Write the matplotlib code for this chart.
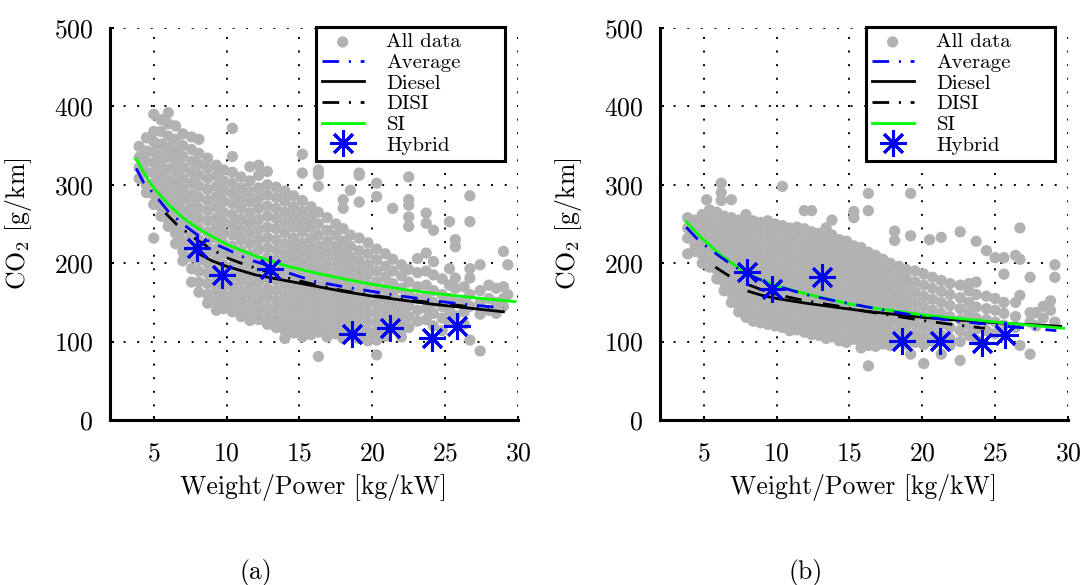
import matplotlib
matplotlib.use("Agg")
import matplotlib.pyplot as plt
import numpy as np

plt.rcParams['font.family'] = 'serif'
plt.rcParams['font.serif'] = ['cmr10']
plt.rcParams['mathtext.fontset'] = 'cm'
plt.rcParams['axes.formatter.use_mathtext'] = True
plt.rcParams['lines.scale_dashes'] = False

# ---- panel (a): all data, read column by column (x, list of y) ----
cloud_a = [
    (4.0, [349, 335, 322, 308]),
    (4.5, [360, 343, 330, 316, 300, 290]),
    (5.0, [390, 368, 355, 342, 328, 315, 302, 288, 275, 232]),
    (5.5, [383, 368, 352, 338, 325, 312, 298, 285, 272, 260]),
    (6.0, [392, 378, 362, 348, 335, 320, 306, 293, 280, 268, 255, 247]),
    (6.5, [375, 358, 344, 330, 317, 303, 290, 277, 264, 250, 238, 225]),
    (7.0, [365, 350, 336, 322, 308, 295, 282, 268, 255, 242, 228, 215, 203]),
    (7.6, [361, 345, 330, 316, 302, 288, 275, 262, 248, 235, 222, 208, 193, 176]),
    (8.1, [358, 340, 326, 312, 298, 284, 270, 257, 244, 230, 217, 204, 190, 176, 163]),
    (8.7, [334, 321, 308, 294, 280, 267, 254, 240, 227, 214, 200, 187, 174, 160, 149]),
    (9.3, [325, 312, 298, 285, 272, 258, 245, 232, 218, 205, 192, 178, 165, 152, 140]),
    (9.8, [319, 305, 292, 279, 265, 252, 238, 225, 212, 198, 185, 172, 160, 151, 142]),
    (10.4, [372, 336, 316, 302, 289, 276, 262, 249, 236, 222, 209, 196, 183, 170, 158, 146, 138]),
    (11.0, [310, 296, 283, 270, 256, 243, 230, 216, 203, 190, 177, 164, 152, 140, 132]),
    (11.6, [323, 305, 291, 278, 264, 251, 238, 225, 211, 198, 185, 172, 160, 147, 135, 127]),
    (12.2, [325, 312, 296, 283, 270, 256, 243, 230, 217, 203, 190, 177, 164, 152, 140, 128]),
    (12.8, [317, 300, 287, 273, 260, 246, 233, 220, 207, 194, 181, 168, 156, 143, 131, 122]),
    (13.4, [297, 284, 270, 257, 244, 230, 217, 204, 191, 178, 165, 152, 140, 128, 118]),
    (14.0, [292, 279, 265, 252, 239, 225, 212, 199, 186, 173, 160, 148, 136, 124, 114, 104]),
    (14.6, [286, 272, 259, 246, 232, 219, 206, 193, 180, 167, 155, 143, 131, 120, 111]),
    (15.2, [339, 315, 280, 266, 253, 240, 226, 213, 200, 187, 174, 162, 150, 138, 126, 115, 106]),
    (15.8, [272, 259, 246, 232, 219, 206, 193, 180, 168, 155, 143, 131, 120, 109]),
    (16.3, [319, 313, 298, 265, 250, 236, 222, 209, 196, 184, 171, 159, 147, 135, 123, 112, 81]),
    (16.9, [258, 242, 228, 215, 202, 189, 176, 164, 152, 140, 128, 116, 106]),
    (17.5, [250, 236, 222, 209, 196, 183, 171, 158, 146, 134, 122, 110]),
    (18.0, [281, 270, 244, 228, 214, 201, 188, 175, 162, 150, 138, 126, 114, 104]),
    (18.5, [293, 236, 222, 208, 195, 182, 169, 156, 144, 132, 120, 108]),
    (19.1, [315, 312, 278, 232, 216, 203, 190, 177, 164, 152, 140, 128, 116, 104]),
    (19.7, [226, 212, 198, 185, 172, 160, 148, 136, 124, 112, 101]),
    (20.3, [302, 285, 218, 204, 190, 176, 163, 150, 138, 126, 114, 102, 83]),
    (20.9, [212, 196, 182, 168, 155, 142, 130, 118, 107]),
    (21.4, [270, 205, 190, 174, 160, 146, 133, 119]),
    (22.0, [198, 184, 168, 153, 140, 128, 116, 106]),
    (22.5, [310, 281, 274, 259, 247, 192, 176, 160, 146, 132, 118]),
    (23.1, [206, 188, 170, 155, 140, 126]),
    (23.7, [264, 251, 213, 190, 172, 157, 142, 128]),
    (24.2, [242, 202, 185, 165, 150, 136, 120]),
    (24.8, [180, 160, 145, 130, 114]),
    (25.3, [253, 193, 172, 155, 140, 125]),
    (25.7, [230, 221, 181, 168, 150, 133]),
    (26.3, [170, 152, 138, 122]),
    (26.7, [286, 253, 193, 181, 160, 145, 102]),
    (27.4, [198, 165, 150, 135, 88]),
    (28.0, [172, 155, 140]),
    (28.5, [168, 150, 136]),
    (29.0, [215, 170, 155, 145]),
    (29.3, [198, 160]),
]

# ---- panel (b) ----
cloud_b = [
    (3.9, [258, 245, 232, 212]),
    (4.4, [255, 242, 228, 215, 222]),
    (4.9, [262, 250, 237, 224, 211, 200]),
    (5.2, [281]),
    (5.4, [268, 255, 243, 230, 218, 206, 195]),
    (5.9, [265, 252, 240, 228, 216, 204, 192, 180]),
    (6.2, [302, 290, 280]),
    (6.4, [260, 248, 236, 224, 212, 200, 188, 176, 165]),
    (6.9, [281, 258, 246, 234, 222, 210, 198, 186, 174, 162, 150]),
    (7.4, [255, 243, 231, 219, 207, 195, 183, 171, 159, 147, 138]),
    (7.9, [262, 250, 238, 226, 214, 202, 190, 178, 166, 154, 142, 131]),
    (8.4, [254, 242, 230, 218, 206, 194, 182, 170, 158, 146, 134, 126]),
    (8.9, [252, 240, 228, 216, 204, 192, 180, 168, 156, 144, 132, 124]),
    (9.4, [254, 241, 229, 217, 205, 193, 181, 169, 157, 145, 133, 122]),
    (9.9, [250, 238, 226, 214, 202, 190, 178, 166, 154, 142, 130, 120]),
    (10.4, [298, 248, 236, 224, 212, 200, 188, 176, 164, 152, 140, 128, 118]),
    (10.9, [245, 233, 221, 209, 197, 185, 173, 161, 149, 137, 125, 114]),
    (11.4, [246, 234, 222, 210, 198, 186, 174, 162, 150, 138, 126, 115]),
    (11.9, [267, 244, 232, 220, 208, 196, 184, 172, 160, 148, 136, 124, 112]),
    (12.4, [267, 240, 228, 216, 204, 192, 180, 168, 156, 144, 132, 120, 109]),
    (12.9, [238, 226, 214, 202, 190, 178, 166, 154, 142, 130, 118, 108]),
    (13.4, [245, 232, 220, 208, 196, 184, 172, 160, 148, 136, 124, 112, 104]),
    (13.8, [255, 236, 224, 212, 200, 188, 176, 164, 152, 140, 128, 116, 106]),
    (14.3, [230, 218, 206, 194, 182, 170, 158, 146, 134, 122, 110, 101]),
    (14.8, [228, 216, 204, 192, 180, 168, 156, 144, 132, 120, 108, 99]),
    (15.3, [266, 258, 222, 210, 198, 186, 174, 162, 150, 138, 126, 114, 103]),
    (15.8, [220, 208, 196, 184, 172, 160, 148, 136, 124, 112, 100, 92]),
    (16.3, [289, 267, 214, 202, 190, 178, 166, 154, 142, 130, 118, 106, 95, 69]),
    (16.8, [210, 198, 186, 174, 162, 150, 138, 126, 114, 102, 94]),
    (17.3, [205, 192, 180, 168, 156, 144, 132, 120, 108, 97]),
    (17.8, [200, 188, 176, 164, 152, 140, 128, 116, 104, 95]),
    (18.1, [241, 229]),
    (18.4, [196, 184, 172, 160, 148, 136, 124, 112, 100]),
    (18.9, [192, 180, 168, 156, 144, 132, 120, 108, 97]),
    (19.2, [289, 235, 84]),
    (19.5, [190, 176, 163, 150, 137, 124, 111, 99]),
    (20.1, [186, 172, 158, 145, 132, 119, 106, 96, 72]),
    (20.5, [230]),
    (20.7, [182, 168, 154, 140, 126, 113, 100]),
    (21.3, [233, 178, 164, 150, 136, 122, 108, 84]),
    (21.9, [174, 160, 146, 132, 118, 104, 95]),
    (22.6, [240, 172, 156, 142, 128, 114, 100, 76]),
    (23.2, [174, 165, 150, 136, 122, 108]),
    (23.7, [228, 176, 160, 144, 130, 116, 102]),
    (24.4, [216, 158, 142, 128, 114]),
    (25.0, [207, 155, 140, 125, 110]),
    (25.6, [207, 186, 150, 136, 121]),
    (26.4, [210, 150, 132, 118]),
    (26.7, [245, 205, 159, 95]),
    (27.4, [182, 137, 125, 84]),
    (27.8, [137, 120]),
    (28.3, [145, 130]),
    (28.8, [152, 140]),
    (29.1, [198, 182, 125]),
]

# ---- fitted curves (a) ----
avg_a_x = [3.8, 4.3, 5, 6, 7, 8, 9, 10, 11.5, 13, 14.5, 16, 18, 20, 22, 24, 26, 29]
avg_a_y = [321, 303, 289, 266, 250, 236, 226, 218, 205, 196, 186, 177, 170, 164, 158, 153, 148, 143]
diesel_a_x = [8, 9, 10, 12, 14, 16, 18, 20, 22, 24, 26, 28, 29]
diesel_a_y = [213, 203, 196, 185, 178, 171, 164, 158, 153, 148, 144, 140, 138]
disi_a_x = [5.8, 6.6, 7.8, 8.7, 10, 11, 12.6, 14, 16, 18, 20, 22, 24, 26, 28]
disi_a_y = [264, 249, 232, 221, 207, 200, 190, 182, 173, 165, 159, 154, 150, 146, 141]
si_a_x = [3.8, 4.5, 5, 6, 7, 8, 9, 10, 12, 14, 16, 18, 20, 22, 24, 26, 28, 29.8]
si_a_y = [333, 310, 296, 275, 258, 245, 234, 224, 209, 197, 188, 180, 173, 167, 162, 158, 154, 151]
hyb_a_x = [8.0, 9.7, 13.0, 18.6, 21.2, 24.1, 25.8]
hyb_a_y = [219, 185, 193, 110, 117, 105, 120]

# ---- fitted curves (b) ----
avg_b_x = [3.8, 4.5, 5, 6, 7, 8, 9, 10, 12, 14, 16, 18, 20, 22, 24, 26, 28, 29.2]
avg_b_y = [246, 232, 224, 210, 197, 186, 178, 171, 160, 152, 145, 138, 132, 127, 123, 119, 116, 114]
diesel_b_x = [8.1, 9, 10, 12, 14, 16, 18, 20, 22, 24, 26, 28, 29.5]
diesel_b_y = [164, 159, 155, 149, 144, 139, 135, 131, 128, 125.5, 123, 121, 119.5]
disi_b_x = [5.8, 6.8, 8, 9, 10, 12, 14, 16, 18, 20, 22, 24.3]
disi_b_y = [195, 183, 173, 166, 160, 152, 146, 139, 133, 127, 122, 117]
si_b_x = [3.8, 4.8, 6.2, 8, 10, 12, 15, 17, 20, 25, 29.7]
si_b_y = [253, 233, 210, 186, 171, 161, 148, 142, 134, 125, 117]
hyb_b_x = [8.0, 9.7, 13.1, 18.6, 21.2, 24.1, 25.7]
hyb_b_y = [189, 167, 182, 101, 101, 98, 108]

panels = [
    (cloud_a, avg_a_x, avg_a_y, diesel_a_x, diesel_a_y, disi_a_x, disi_a_y,
     si_a_x, si_a_y, hyb_a_x, hyb_a_y, '(a)'),
    (cloud_b, avg_b_x, avg_b_y, diesel_b_x, diesel_b_y, disi_b_x, disi_b_y,
     si_b_x, si_b_y, hyb_b_x, hyb_b_y, '(b)'),
]

fig = plt.figure(figsize=(10.83, 5.85), dpi=100)
lefts = [110 / 1083, 660 / 1083]
tag_x = [256 / 1083, 806 / 1083]
W, H = 408 / 1083, 392 / 585
B = 1 - 420 / 585

asterisk = (8, 2, 0)
dashdot = (0, (12, 7, 1.5, 7))

# legend box in axes fraction (x0, y0, w, h)
leg_box = ((316 - 110) / 408, (420 - 157) / 392, 189 / 408, 130 / 392)

for left, tx, p in zip(lefts, tag_x, panels):
    cloud, ax_, ay_, dx, dy, ix, iy, sx, sy, hx, hy, tag = p
    ax = fig.add_axes([left, B, W, H])
    xs = [x for x, ys in cloud for _ in ys]
    ys = [y for _, col in cloud for y in col]
    ax.scatter(xs, ys, s=66, c='#b2b2b2', edgecolors='none', zorder=2, label='All data')
    ax.plot(ax_, ay_, color='#0000ff', lw=2, linestyle=dashdot, zorder=4, label='Average')
    ax.plot(dx, dy, color='black', lw=2, zorder=3, label='Diesel')
    ax.plot(ix, iy, color='black', lw=2, linestyle=dashdot, zorder=3, label='DISI')
    ax.plot(sx, sy, color='#00ff00', lw=2, zorder=3, label='SI')
    ax.plot(hx, hy, linestyle='none', marker=asterisk, ms=19, mew=2.2, color='#0000ff',
            zorder=5, label='Hybrid')

    ax.set_xlim(2, 30)
    ax.set_ylim(0, 500)
    ax.set_xticks([5, 10, 15, 20, 25, 30])
    ax.set_yticks([0, 100, 200, 300, 400, 500])
    ax.grid(True, color='black', linestyle=(0, (1.4, 8.4)), linewidth=1.4)
    ax.set_axisbelow(True)
    for s in ['top', 'right']:
        ax.spines[s].set_visible(False)
    for s in ['left', 'bottom']:
        ax.spines[s].set_linewidth(2.2)
    ax.tick_params(axis='y', direction='in', length=3, width=1.5, labelsize=18.5, pad=12)
    ax.tick_params(axis='x', direction='in', length=3, width=1.5, labelsize=18.5, pad=16)
    ax.set_xlabel('Weight/Power [kg/kW]', fontsize=18.5, labelpad=6)
    ax.set_ylabel('CO$_2$ [g/km]', fontsize=18.5, labelpad=14)

    leg = ax.legend(loc='upper left', bbox_to_anchor=leg_box, mode='expand', fontsize=15,
                    fancybox=False, edgecolor='black', framealpha=1, borderpad=0.28,
                    labelspacing=0.1, handlelength=2.0, handletextpad=1.1,
                    scatterpoints=1, numpoints=1, borderaxespad=0)
    leg.get_frame().set_linewidth(2.2)
    leg.set_zorder(10)

    fig.text(tx, 1 - 572 / 585, tag, fontsize=18.5, ha='center', va='center')

fig.savefig('out.png', dpi=100)
